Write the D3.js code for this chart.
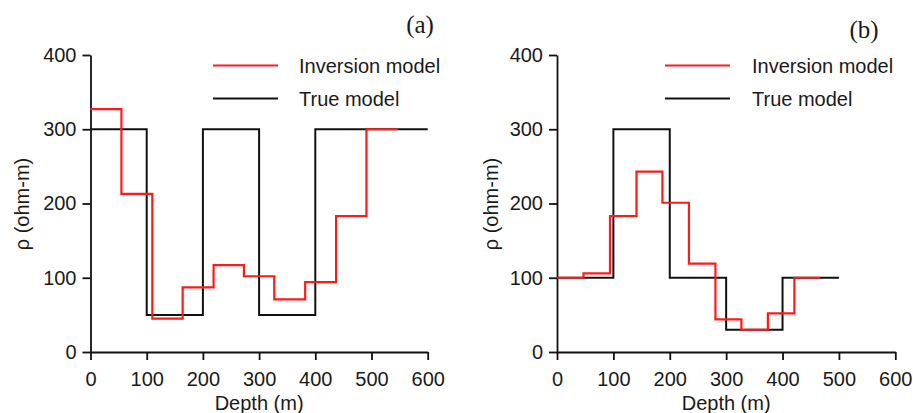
<!DOCTYPE html>
<html>
<head>
<meta charset="utf-8">
<script src="https://cdn.jsdelivr.net/npm/d3@7"></script>
<style>
  html, body { margin: 0; padding: 0; background: #fff; }
  svg { display: block; }
  text { font-family: "Liberation Sans", Arial, sans-serif; fill: #1a1a1a; }
</style>
</head>
<body>
<svg id="chart" width="913" height="413"></svg>
<script>
// ---- data ----
const xTicks = [0, 100, 200, 300, 400, 500, 600];
const yTicks = [0, 100, 200, 300, 400];
const seriesNames = ["Inversion model", "True model"];
const panelLabels = ["(a)", "(b)"];

// panel (a)
const invDepthA = [0, 55, 110, 164, 219, 273, 327, 382, 437, 491, 547];
const invRhoA   = [327, 213, 45, 87, 117, 102, 71, 94, 183, 300];
const trueDepthA = [0, 100, 200, 300, 400, 600];
const trueRhoA   = [300, 50, 300, 50, 300];

// panel (b)
const invDepthB = [0, 47, 94, 141, 187, 234, 281, 327, 374, 421, 467];
const invRhoB   = [100, 106, 183, 243, 201, 119, 44, 30, 52, 100];
const trueDepthB = [0, 100, 200, 300, 400, 500];
const trueRhoB   = [100, 300, 100, 30, 100];

const svg = d3.select("#chart");
const FS = "20px";

function stepPoints(depths, rhos) {
  const pts = rhos.map((r, i) => [depths[i], r]);
  pts.push([depths[depths.length - 1], rhos[rhos.length - 1]]);
  return pts;
}

const panels = [
  { x0: 90.5, x1: 427.7, label: panelLabels[0], labelX: 420, labelY: 33,
    inv: stepPoints(invDepthA, invRhoA), tru: stepPoints(trueDepthA, trueRhoA),
    legX: 213, legTextX: 299, ylabX: 29 },
  { x0: 557, x1: 895.3, label: panelLabels[1], labelX: 864, labelY: 38,
    inv: stepPoints(invDepthB, invRhoB), tru: stepPoints(trueDepthB, trueRhoB),
    legX: 665, legTextX: 752, ylabX: 498 }
];

panels.forEach(p => {
  const x = d3.scaleLinear().domain([0, 600]).range([p.x0, p.x1]);
  const y = d3.scaleLinear().domain([0, 400]).range([352, 55]);
  const g = svg.append("g");

  const xAxis = g.append("g").attr("transform", "translate(0,352)")
    .call(d3.axisBottom(x).tickValues(xTicks).tickSize(8).tickSizeOuter(0).tickPadding(12));
  const yAxis = g.append("g").attr("transform", `translate(${p.x0},0)`)
    .call(d3.axisLeft(y).tickValues(yTicks).tickSize(8).tickSizeOuter(0).tickPadding(6));
  [xAxis, yAxis].forEach(a => {
    a.selectAll("path.domain").attr("stroke", "#111").attr("stroke-width", 1.8);
    a.selectAll(".tick line").attr("stroke", "#111").attr("stroke-width", 1.8);
    a.selectAll("text").style("font-size", FS).attr("fill", "#1a1a1a")
      .style("font-family", '"Liberation Sans", Arial, sans-serif');
  });

  const line = d3.line().x(d => x(d[0])).y(d => y(d[1])).curve(d3.curveStepAfter);
  g.append("path").datum(p.tru).attr("d", line)
    .attr("fill", "none").attr("stroke", "#111").attr("stroke-width", 2);
  g.append("path").datum(p.inv).attr("d", line)
    .attr("fill", "none").attr("stroke", "#ff1a1a").attr("stroke-width", 2.2);

  // axis titles
  g.append("text").attr("x", (p.x0 + p.x1) / 2).attr("y", 410)
    .attr("text-anchor", "middle").style("font-size", FS).text("Depth (m)");
  g.append("text")
    .attr("transform", `translate(${p.ylabX},204) rotate(-90)`)
    .attr("text-anchor", "middle").style("font-size", FS).text("ρ (ohm-m)");

  // panel label
  g.append("text").attr("x", p.labelX).attr("y", p.labelY)
    .attr("text-anchor", "middle")
    .style("font-family", '"Liberation Serif", "Times New Roman", serif')
    .style("font-size", "25px").text(p.label);

  // legend
  const leg = [{ name: seriesNames[0], color: "#ff1a1a", y: 65.5 },
               { name: seriesNames[1], color: "#111", y: 98.5 }];
  leg.forEach(l => {
    g.append("line").attr("x1", p.legX).attr("x2", p.legX + 65)
      .attr("y1", l.y).attr("y2", l.y).attr("stroke", l.color).attr("stroke-width", 2);
    g.append("text").attr("x", p.legTextX).attr("y", l.y + 7)
      .style("font-size", FS).text(l.name);
  });
});
</script>
</body>
</html>
